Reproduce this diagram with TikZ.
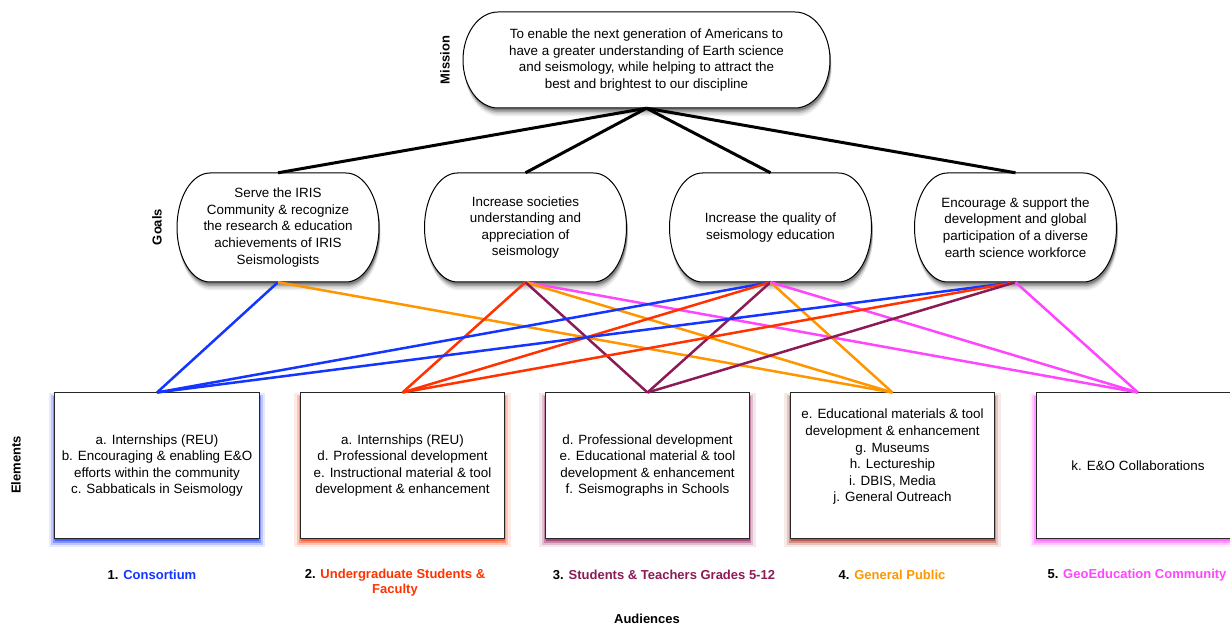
\documentclass[tikz,border=0pt]{standalone}
\usepackage{fontspec}
\setmainfont{Liberation Sans}
\usetikzlibrary{shadows}
\definecolor{cblue}{RGB}{20,52,255}
\definecolor{cred}{RGB}{255,50,0}
\definecolor{cpurple}{RGB}{140,26,84}
\definecolor{corange}{RGB}{255,150,0}
\definecolor{cmag}{RGB}{255,70,255}
\definecolor{cbrown}{RGB}{165,45,30}
% capsule: centre (#1,#2), width #3, height #4, side radius #5, style #6
\newcommand\capshape[6]{%
  \path[#6] ({#1-#3/2+#5},{#2-#4/2}) -- ({#1+#3/2-#5},{#2-#4/2})
     arc[start angle=90,end angle=-90,x radius={#5*1bp},y radius={#4/2*1bp}]
     -- ({#1-#3/2+#5},{#2+#4/2})
     arc[start angle=270,end angle=90,x radius={#5*1bp},y radius={#4/2*1bp}] -- cycle;}
\newcommand\capsuleAt[5]{%
  \capshape{#1+1.5}{#2+8.5}{#3}{#4}{#5}{fill=black!6}
  \capshape{#1+1.5}{#2+7}{#3}{#4}{#5}{fill=black!12}
  \capshape{#1+1}{#2+5.5}{#3}{#4}{#5}{fill=black!22}
  \capshape{#1+1}{#2+4}{#3}{#4}{#5}{fill=black!34}
  \capshape{#1+1}{#2+2.5}{#3}{#4}{#5}{fill=black!50}
  \capshape{#1}{#2}{#3}{#4}{#5}{capline}}
\begin{document}
\begin{tikzpicture}[x=1bp,y=-1bp,
  txt/.style={font=\fontsize{13.4bp}{16.6bp}\selectfont, align=center, inner sep=0pt},
  capline/.style={draw=black, line width=1bp, fill=white},
  mbox/.style={txt, minimum width=367bp, minimum height=96bp},
  gbox/.style={txt, minimum width=202bp, minimum height=109bp},
  elem/.style={txt, draw=black!85, line width=1bp, fill=white,
     minimum width=204bp, minimum height=145bp},
  glow/.style={
     general shadow={fill=#1, opacity=0.10, shadow scale=1.06, shadow yshift=-4bp},
     general shadow={fill=#1, opacity=0.20, shadow scale=1.035, shadow yshift=-4bp},
     general shadow={fill=#1, opacity=0.35, shadow scale=1.015, shadow yshift=-4bp},
     general shadow={fill=#1, opacity=0.55, shadow yshift=-3bp}},
  side/.style={font=\bfseries\fontsize{13bp}{15bp}\selectfont, rotate=90, inner sep=0pt},
  aud/.style={font=\bfseries\fontsize{13bp}{15bp}\selectfont, align=center, inner sep=0pt},
  blk/.style={line width=3bp, black},
  lk/.style={line width=2.5bp}]
\useasboundingbox (0,0) rectangle (1230,625);

% capsule outlines with drop shadows
\capsuleAt{646.5}{60}{367}{96}{35}
\capsuleAt{278}{227.5}{202}{109}{33}
\capsuleAt{525.5}{227.5}{202}{109}{33}
\capsuleAt{770.5}{227.5}{202}{109}{33}
\capsuleAt{1015.5}{227.5}{202}{109}{33}

% mission
\node[mbox] (m) at (646.5,60) {To enable the next generation of Americans to\\have a greater understanding of Earth science\\and seismology, while helping to attract the\\best and brightest to our discipline};

% goals
\node[gbox] (g1) at (278,227.5) {Serve the IRIS\\Community \& recognize\\the research \& education\\achievements of IRIS\\Seismologists};
\node[gbox] (g2) at (525.5,227.5) {Increase societies\\understanding and\\appreciation of\\seismology};
\node[gbox] (g3) at (770.5,227.5) {Increase the quality of\\seismology education};
\node[gbox] (g4) at (1015.5,227.5) {Encourage \& support the\\development and global\\participation of a diverse\\earth science workforce};

% elements
\node[elem, glow=cblue] (e1) at (157,465.5) {a. Internships (REU)\\b. Encouraging \& enabling E\&O\\efforts within the community\\c. Sabbaticals in Seismology};
\node[elem, glow=cred] (e2) at (402.5,465.5) {a. Internships (REU)\\d. Professional development\\e. Instructional material \& tool\\development \& enhancement};
\node[elem, glow=cpurple] (e3) at (647.5,465.5) {d. Professional development\\e. Educational material \& tool\\development \& enhancement\\f. Seismographs in Schools};
\node[elem, glow=cbrown] (e4) at (892.5,465.5) {};
\node[txt] (e4t) at (892.5,457) {e. Educational materials \& tool\\development \& enhancement\\g. Museums\\h. Lectureship\\i. DBIS, Media\\j. General Outreach};
\node[elem, glow=cmag] (e5) at (1138,465.5) {k. E\&O Collaborations};

% mission to goals
\draw[blk] (m.south) -- (g1.north);
\draw[blk] (m.south) -- (g2.north);
\draw[blk] (m.south) -- (g3.north);
\draw[blk] (m.south) -- (g4.north);

% goals to elements
\draw[lk, cblue] (g1.south) -- (e1.north);
\draw[lk, corange] (g1.south) -- (e4.north);
\draw[lk, cmag] (g2.south) -- (e5.north);
\draw[lk, corange] (g2.south) -- (e4.north);
\draw[lk, cred] (g2.south) -- (e2.north);
\draw[lk, cpurple] (g2.south) -- (e3.north);
\draw[lk, cblue] (g3.south) -- (e1.north);
\draw[lk, cred] (g3.south) -- (e2.north);
\draw[lk, cpurple] (g3.south) -- (e3.north);
\draw[lk, corange] (g3.south) -- (e4.north);
\draw[lk, cmag] (g3.south) -- (e5.north);
\draw[lk, cblue] (g4.south) -- (e1.north);
\draw[lk, cred] (g4.south) -- (e2.north);
\draw[lk, cpurple] (g4.south) -- (e3.north);
\draw[lk, cmag] (g4.south) -- (e5.north);

% side labels
\node[side] (lm) at (445,60) {Mission};
\node[side] (lg) at (157,227) {Goals};
\node[side] (le) at (16,465) {Elements};

% audiences
\node[aud] (a1) at (152,575) {1. \textcolor{cblue}{Consortium}};
\node[aud] (a2) at (395,583) {2. \textcolor{cred}{Undergraduate Students \&}\\\textcolor{cred}{Faculty}};
\node[aud] (a3) at (664,575) {3. \textcolor{cpurple}{Students \& Teachers Grades 5-12}};
\node[aud] (a4) at (892,575) {4. \textcolor{corange}{General Public}};
\node[aud] (a5) at (1137,575) {5. \textcolor{cmag}{GeoEducation Community}};
\node[aud] (aud) at (647,619) {Audiences};
\end{tikzpicture}
\end{document}
